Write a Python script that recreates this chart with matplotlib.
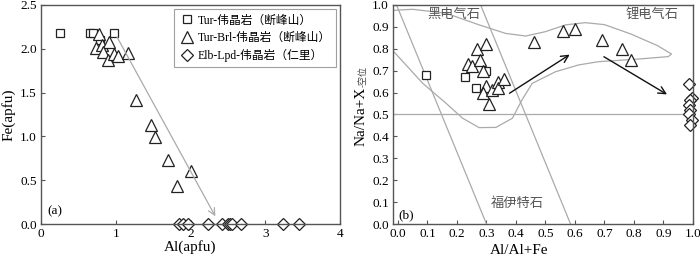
import matplotlib
matplotlib.use("Agg")
import matplotlib.pyplot as plt

plt.rcParams['font.family'] = ['Liberation Serif', 'Noto Sans CJK SC']
plt.rcParams['axes.unicode_minus'] = False

# ---- panel (a): Fe vs Al (apfu) ----
tur_al = [0.25, 0.65, 0.69, 0.97, 0.79]
tur_fe = [2.18, 2.18, 2.18, 2.18, 2.10]

brl_al = [0.77, 0.74, 0.81, 0.91, 0.83, 0.89, 0.97, 1.03, 1.16, 1.27, 1.47, 1.53, 1.70, 1.82, 2.01]
brl_fe = [2.17, 2.01, 2.04, 2.08, 1.96, 1.87, 1.94, 1.92, 1.95, 1.42, 1.13, 0.99, 0.73, 0.43, 0.60]

lpd_al = [1.84, 1.90, 1.96, 2.24, 2.42, 2.50, 2.53, 2.56, 2.68, 3.24, 3.45]
lpd_fe = [0.0] * len(lpd_al)

arrow_a = [(1.0, 2.16), (2.35, 0.06)]

# ---- panel (b): Na/(Na+X-vac) vs Al/(Al+Fe) ----
tur_b_x = [0.096, 0.227, 0.266, 0.30]
tur_b_y = [0.68, 0.67, 0.62, 0.70]

brl_b_x = [0.238, 0.25, 0.267, 0.30, 0.279, 0.287, 0.30, 0.287, 0.32, 0.34, 0.34, 0.36, 0.31,
           0.46, 0.56, 0.60, 0.69, 0.76, 0.79]
brl_b_y = [0.73, 0.72, 0.80, 0.82, 0.75, 0.70, 0.63, 0.60, 0.61, 0.65, 0.62, 0.66, 0.55,
           0.83, 0.88, 0.89, 0.84, 0.80, 0.75]

lpd_b_x = [0.985, 0.995, 0.99, 0.985, 0.99, 0.985, 0.995, 0.99]
lpd_b_y = [0.64, 0.575, 0.565, 0.545, 0.52, 0.50, 0.475, 0.45]

arrows_b = [((0.37, 0.59), (0.59, 0.78)), ((0.69, 0.77), (0.92, 0.585))]

# field boundaries
line1_x, line1_y = [-0.005, 0.30], [1.0, 0.0]
line2_x, line2_y = [0.28, 0.585], [1.0, 0.0]
field_x = [-0.02, 0.05, 0.163, 0.275, 0.365, 0.433, 0.50, 0.568, 0.635, 0.70, 0.79, 0.88, 0.927,
           0.916, 0.815, 0.68, 0.612, 0.534, 0.455, 0.42, 0.388, 0.332, 0.275, 0.219, 0.163, 0.084, 0.006, -0.02]
field_y = [0.975, 0.98, 0.962, 0.909, 0.87, 0.858, 0.878, 0.909, 0.919, 0.91, 0.867, 0.814, 0.776,
           0.764, 0.753, 0.741, 0.726, 0.695, 0.642, 0.566, 0.483, 0.441, 0.44, 0.483, 0.551, 0.642, 0.757, 0.795]

labels = ['Tur-伟晶岩（断峰山）', 'Tur-Brl-伟晶岩（断峰山）', 'Elb-Lpd-伟晶岩（仁里）']

spine_c = '#555555'
gray = '#aaaaaa'

fig = plt.figure(figsize=(7.0, 2.59), dpi=100)
ax1 = fig.add_axes([0.0586, 0.135, 0.4271, 0.846])
ax2 = fig.add_axes([0.5614, 0.135, 0.4286, 0.846])

mk = dict(mfc='white', mec='#222222', mew=0.9, ls='none')
ax1.plot(tur_al, tur_fe, marker='s', ms=5.5, label=labels[0], **mk)
ax1.plot(brl_al, brl_fe, marker='^', ms=8, label=labels[1], **mk)
ax1.plot(lpd_al, lpd_fe, marker='D', ms=6.3, label=labels[2], clip_on=False, **mk)
ax1.annotate('', xy=arrow_a[1], xytext=arrow_a[0],
             arrowprops=dict(arrowstyle='->', color=gray, lw=0.9, mutation_scale=12))
ax1.set_xlim(0, 4)
ax1.set_ylim(0, 2.5)
ax1.set_xticks([0, 1, 2, 3, 4])
ax1.set_yticks([0, 0.5, 1.0, 1.5, 2.0, 2.5])
ax1.set_yticklabels(['0.0', '0.5', '1.0', '1.5', '2.0', '2.5'])
ax1.set_xlabel('Al(apfu)', fontsize=11, labelpad=0)
ax1.set_ylabel('Fe(apfu)', fontsize=11, labelpad=3)
ax1.text(0.08, 0.11, '(a)', fontsize=9.5)
leg = ax1.legend(loc='upper right', fontsize=8.5, frameon=True, fancybox=False,
                 edgecolor='#888888', borderpad=0.45, handletextpad=0.3, labelspacing=0.45,
                 handlelength=1.2, borderaxespad=0.35)
leg.get_frame().set_linewidth(0.8)

ax2.plot(line1_x, line1_y, color=gray, lw=0.9)
ax2.plot(line2_x, line2_y, color=gray, lw=0.9)
ax2.axhline(0.5, color=gray, lw=0.9)
ax2.plot(field_x, field_y, color=gray, lw=0.9)
ax2.plot(tur_b_x, tur_b_y, marker='s', ms=5.5, **mk)
ax2.plot(brl_b_x, brl_b_y, marker='^', ms=8, **mk)
ax2.plot(lpd_b_x, lpd_b_y, marker='D', ms=6.3, clip_on=False, **mk)
for start, end in arrows_b:
    ax2.annotate('', xy=end, xytext=start,
                 arrowprops=dict(arrowstyle='->', color='#111111', lw=1.0, mutation_scale=13))
ax2.set_xlim(-0.017, 1.0)
ax2.set_ylim(0, 1.0)
ax2.set_xticks([i / 10 for i in range(11)])
ax2.set_yticks([i / 10 for i in range(11)])
ax2.set_xticklabels([f'{i / 10:.1f}' for i in range(11)])
ax2.set_yticklabels([f'{i / 10:.1f}' for i in range(11)])
ax2.set_xlabel('Al/Al+Fe', fontsize=11, labelpad=0)
ax2.xaxis.set_label_coords(0.42, -0.09)
ax2.text(-0.108, 0.49, 'Na/Na+X', rotation=90, fontsize=11, ha='center', va='center',
         transform=ax2.transAxes)
ax2.text(-0.098, 0.675, '-空位', rotation=90, fontsize=6.5, ha='center', va='center',
         transform=ax2.transAxes, color='#444444')
txt_c = '#555555'
ax2.text(0.19, 0.955, '黑电气石', fontsize=9.5, color=txt_c, ha='center', va='center')
ax2.text(0.86, 0.955, '锂电气石', fontsize=9.5, color=txt_c, ha='center', va='center')
ax2.text(0.405, 0.095, '福伊特石', fontsize=9.5, color=txt_c, ha='center', va='center')
ax2.text(0.0, 0.025, '(b)', fontsize=9.5)

for ax in (ax1, ax2):
    for s in ax.spines.values():
        s.set_color(spine_c)
        s.set_linewidth(1.0)
    ax.tick_params(direction='in', length=3, width=0.8, color=spine_c, labelsize=9.5, pad=3)

fig.savefig('out.png', dpi=100)
